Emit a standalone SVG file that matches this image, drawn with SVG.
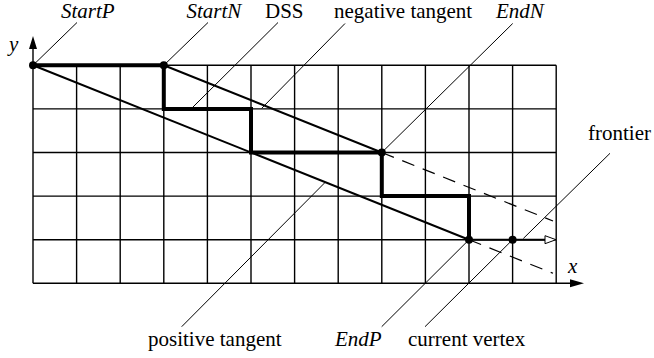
<svg xmlns="http://www.w3.org/2000/svg" width="654" height="358" viewBox="0 0 654 358">
<g id="grid" stroke="#000" stroke-width="1.4" fill="none">
<path d="M33,65.3H556.2M33,108.9H556.2M33,152.5H556.2M33,196.1H556.2M33,239.7H556.2
M76.6,65.3V283.3M120.2,65.3V283.3M163.8,65.3V283.3M207.4,65.3V283.3M251,65.3V283.3M294.6,65.3V283.3M338.2,65.3V283.3M381.8,65.3V283.3M425.4,65.3V283.3M469,65.3V283.3M512.6,65.3V283.3M556.2,65.3V283.3"/>
</g>
<g id="axes">
<path d="M33,283.3V48M33,283.3H571" stroke="#000" stroke-width="1.4" fill="none"/>
<path d="M33,36 L29,49 L37,49 Z M584,283.3 L570,279.3 L570,287.3 Z" fill="#000"/>
<text x="9" y="51" font-family="Liberation Serif" font-size="21" font-style="italic">y</text>
<text x="568" y="273" font-family="Liberation Serif" font-size="21" font-style="italic">x</text>
</g>
<g id="connectors" stroke="#000" fill="none">
<path stroke-width="2" d="M33,65.3L469,239.7"/>
<path stroke-width="2" d="M163.8,65.3L381.8,152.5"/>
<path stroke-width="1.2" stroke-dasharray="13 9" d="M381.8,152.5L553,221"/>
<path stroke-width="1.2" stroke-dasharray="13 9" d="M469,239.7L553,273.3"/>
<path stroke-width="4" d="M33,65.3H163.8V108.9H251V152.5H381.8V196.1H469V239.7"/>
<path stroke-width="2" d="M469,239.7H545"/>
<path stroke-width="1" fill="#fff" d="M545,235.7 L556,239.7 L545,243.7 Z"/>
<g stroke-width="1">
<path d="M33,65.3L77,22.5"/>
<path d="M163.8,65.3L208,22.5"/>
<path d="M191.7,108.3L278,22.5"/>
<path d="M261.7,108.3L345,23.5"/>
<path d="M381.8,152.5L512.7,23.5"/>
<path d="M610,153.3L523.3,238.5"/>
<path d="M512.6,239.7L425,326.7"/>
<path d="M469,239.7L381.7,326.7"/>
<path d="M325,182.5L181.7,326.7"/>
</g>
</g>
<g id="dots" fill="#000">
<circle cx="33" cy="65.3" r="4"/>
<circle cx="163.8" cy="65.3" r="4"/>
<circle cx="381.8" cy="152.5" r="4"/>
<circle cx="469" cy="239.7" r="4"/>
<circle cx="512.6" cy="239.7" r="4"/>
</g>
<g id="labels">
<text x="61" y="17.5" font-family="Liberation Serif" font-size="21" font-style="italic">StartP</text>
<text x="186.5" y="17.5" font-family="Liberation Serif" font-size="21" font-style="italic">StartN</text>
<text x="265" y="17.5" font-family="Liberation Serif" font-size="21">DSS</text>
<text x="334" y="17.5" font-family="Liberation Serif" font-size="21">negative tangent</text>
<text x="496" y="17.5" font-family="Liberation Serif" font-size="21" font-style="italic">EndN</text>
<text x="588" y="140" font-family="Liberation Serif" font-size="21">frontier</text>
<text x="148" y="346" font-family="Liberation Serif" font-size="21">positive tangent</text>
<text x="335" y="346" font-family="Liberation Serif" font-size="21" font-style="italic">EndP</text>
<text x="408" y="346" font-family="Liberation Serif" font-size="21">current vertex</text>
</g>
</svg>
